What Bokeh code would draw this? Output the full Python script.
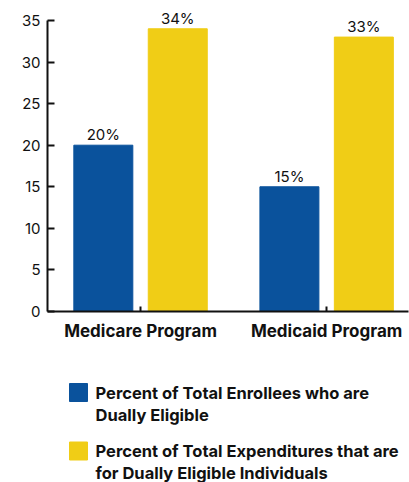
from bokeh.plotting import figure
from bokeh.models import ColumnDataSource, Range1d, FixedTicker, LabelSet
from bokeh.layouts import column
from bokeh.embed import file_html
from bokeh.resources import INLINE
from bokeh.core.properties import value

programs = ["Medicare Program", "Medicaid Program"]
enrollees = [20, 15]
expenditures = [34, 33]
series_names = ["Percent of Total Enrollees who are\nDually Eligible",
                "Percent of Total Expenditures that are\nfor Dually Eligible Individuals"]
colors = ["#0A529C", "#F0CD16"]
y_ticks = [0, 5, 10, 15, 20, 25, 30, 35]

FONT = "Inter"
TXT = "#111111"
centers = [i + 0.5 for i in range(len(programs))]
offset = 0.2
bar_w = 0.317

p = figure(width=409, height=358, x_range=Range1d(0, 1.94), y_range=Range1d(0, 37.4),
           output_backend="svg", toolbar_location=None,
           min_border_left=47, min_border_right=1, min_border_top=0, min_border_bottom=47)
p.outline_line_color = None
p.grid.grid_line_color = None

src = ColumnDataSource(dict(
    x1=[c - offset for c in centers], x2=[c + offset for c in centers],
    a=enrollees, b=expenditures,
    la=[f"{v}%" for v in enrollees], lb=[f"{v}%" for v in expenditures]))

p.vbar(x="x1", top="a", width=bar_w, source=src, fill_color=colors[0], line_color=colors[0])
p.vbar(x="x2", top="b", width=bar_w, source=src, fill_color=colors[1], line_color=colors[1])

for xc, yc, lc in (("x1", "a", "la"), ("x2", "b", "lb")):
    p.add_layout(LabelSet(x=xc, y=yc, text=lc, source=src, y_offset=5,
                          text_align="center", text_baseline="alphabetic",
                          text_font=value(FONT), text_font_size="15px", text_color=TXT))

p.yaxis.bounds = (0, 35)
p.yaxis.ticker = FixedTicker(ticks=y_ticks)
p.yaxis.major_tick_in = 7
p.yaxis.major_tick_out = 0
p.yaxis.minor_tick_line_color = None
p.yaxis.major_label_text_font = FONT
p.yaxis.major_label_text_font_size = "15px"
p.yaxis.major_label_text_color = TXT
p.yaxis.major_label_standoff = 7
p.yaxis.axis_line_width = 2
p.yaxis.axis_line_color = TXT
p.yaxis.major_tick_line_width = 2
p.yaxis.major_tick_line_color = TXT

p.xaxis.ticker = FixedTicker(ticks=centers)
p.xaxis.major_label_overrides = {c: n for c, n in zip(centers, programs)}
p.xaxis.major_tick_in = 5
p.xaxis.major_tick_out = 0
p.xaxis.minor_tick_line_color = None
p.xaxis.major_label_text_font = FONT
p.xaxis.major_label_text_font_style = "bold"
p.xaxis.major_label_text_font_size = "17px"
p.xaxis.major_label_text_color = TXT
p.xaxis.major_label_standoff = 9
p.xaxis.axis_line_width = 2
p.xaxis.axis_line_color = TXT
p.xaxis.major_tick_line_width = 2
p.xaxis.major_tick_line_color = TXT

# legend panel (frame aligned with the chart frame: x in page pixels 47..408)
lg = figure(width=409, height=124, x_range=Range1d(47, 408), y_range=Range1d(124, 0),
            output_backend="svg", toolbar_location=None,
            x_axis_location=None, y_axis_location=None,
            min_border_left=47, min_border_right=1, min_border_top=0, min_border_bottom=0)
lg.outline_line_color = None
lg.grid.grid_line_color = None
ly = [34 + 58.5 * i for i in range(len(series_names))]
lsrc = ColumnDataSource(dict(x=[78] * len(series_names), y=ly, tx=[95] * len(series_names),
                             ty=[y + 11 for y in ly], name=series_names, color=colors))
lg.rect(x="x", y="y", width=18, height=18, source=lsrc, fill_color="color", line_color="color")
lg.text(x="tx", y="ty", text="name", source=lsrc, text_baseline="middle", text_align="left",
        text_font=value(FONT), text_font_style="bold", text_font_size="16.5px",
        text_line_height=1.1, text_color=TXT)

layout = column(p, lg, spacing=0)
open("out.html", "w").write(file_html(layout, INLINE))
